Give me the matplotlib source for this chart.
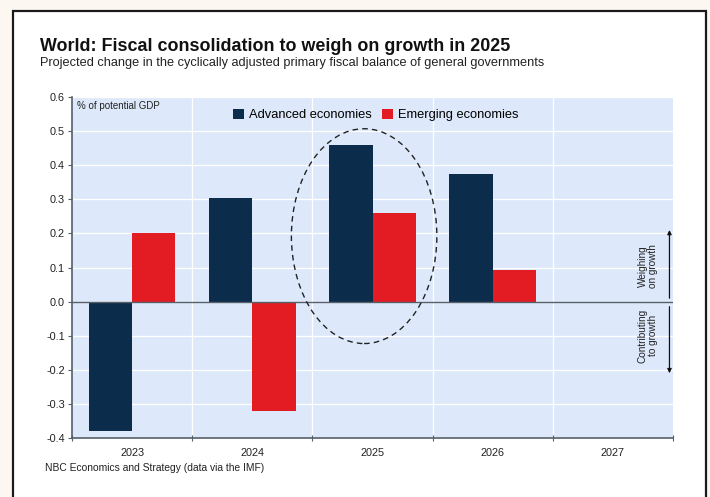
import matplotlib
matplotlib.use('Agg')
import matplotlib.pyplot as plt
from matplotlib.patches import Rectangle, Ellipse
import numpy as np

plt.rcParams['font.family'] = ['Liberation Sans', 'DejaVu Sans']

years = ['2023', '2024', '2025', '2026', '2027']
advanced = [-0.38, 0.305, 0.46, 0.375, np.nan]
emerging = [0.20, -0.32, 0.26, 0.093, np.nan]

NAVY = '#0b2d4b'
RED = '#e31c24'
PANEL = '#dde9fa'

fig = plt.figure(figsize=(7.1, 4.97), dpi=100)
fig.patch.set_facecolor('#fcf8f1')

# white card with black border, kept behind the axes
card = Rectangle((0.0183, -0.02), 0.976, 0.998, transform=fig.transFigure,
                 facecolor='white', edgecolor='#1a1a1a', linewidth=1.6, zorder=-10)
fig.patches.append(card)

fig.text(0.056, 0.897, 'World: Fiscal consolidation to weigh on growth in 2025',
         fontsize=12.9, fontweight='bold', color='#111111')
fig.text(0.056, 0.868, 'Projected change in the cyclically adjusted primary fiscal balance of general governments',
         fontsize=9.2, color='#222222')
fig.text(0.064, 0.052, 'NBC Economics and Strategy (data via the IMF)',
         fontsize=7.4, color='#222222')

ax = fig.add_axes([0.1014, 0.1187, 0.8466, 0.6861])
ax.set_facecolor(PANEL)

x = np.arange(len(years))
w = 0.36
ax.bar(x - w / 2, advanced, w, color=NAVY, label='Advanced economies', zorder=3)
ax.bar(x + w / 2, emerging, w, color=RED, label='Emerging economies', zorder=3)

ax.set_xlim(-0.5, len(years) - 0.5)
ax.set_ylim(-0.4, 0.6)
yt = np.round(np.arange(-0.4, 0.61, 0.1), 1)
ax.set_yticks(yt)
ax.set_yticklabels(['%.1f' % v if v != 0 else '0.0' for v in yt])
ax.set_xticks(x)
ax.set_xticklabels(years)
ax.set_xticks(np.arange(-0.5, len(years), 1), minor=True)

# white grid: horizontal at each 0.1, vertical at category boundaries
for yv in yt:
    ax.axhline(yv, color='white', linewidth=0.9, zorder=1)
for xv in np.arange(0.5, len(years) - 0.5, 1):
    ax.axvline(xv, color='white', linewidth=0.9, zorder=1)
ax.axhline(0, color='#55606b', linewidth=1.0, zorder=4)

for side in ['top', 'right']:
    ax.spines[side].set_visible(False)
for side in ['left', 'bottom']:
    ax.spines[side].set_color('#55606b')
    ax.spines[side].set_linewidth(1.2)

ax.tick_params(axis='y', direction='out', length=3, width=0.8, color='#55606b',
               labelsize=7.8, labelcolor='#222222', pad=2)
ax.tick_params(axis='x', which='major', length=0, labelsize=7.8,
               labelcolor='#222222', pad=7.5)
ax.tick_params(axis='x', which='minor', direction='inout', length=5, width=0.8,
               color='#55606b')

ax.text(0.008, 0.988, '% of potential GDP', transform=ax.transAxes,
        fontsize=7.0, color='#222222', va='top', ha='left')

ax.legend(loc='upper center', bbox_to_anchor=(0.505, 1.0), ncol=2, frameon=False,
          fontsize=9.3, handlelength=0.85, handleheight=0.85, handletextpad=0.4,
          columnspacing=0.8)

# dashed ellipse around the 2025 pair
ax.add_patch(Ellipse((1.93, 0.192), 1.21, 0.63, fill=False, linestyle=(0, (4, 3)),
                     edgecolor='#222222', linewidth=1.0, zorder=5))

# side annotations
ax.annotate('', xy=(4.47, 0.21), xytext=(4.47, 0.01),
            arrowprops=dict(arrowstyle='-|>', color='#111111', lw=0.9,
                            mutation_scale=6, shrinkA=0, shrinkB=0), zorder=5)
ax.annotate('', xy=(4.47, -0.21), xytext=(4.47, -0.015),
            arrowprops=dict(arrowstyle='-|>', color='#111111', lw=0.9,
                            mutation_scale=6, shrinkA=0, shrinkB=0), zorder=5)
ax.text(4.29, 0.105, 'Weighing\non growth', rotation=90, ha='center', va='center',
        fontsize=7.2, color='#222222', linespacing=1.05)
ax.text(4.29, -0.10, 'Contributing\nto growth', rotation=90, ha='center', va='center',
        fontsize=7.2, color='#222222', linespacing=1.05)

fig.savefig('out.png', dpi=100, facecolor=fig.get_facecolor())
